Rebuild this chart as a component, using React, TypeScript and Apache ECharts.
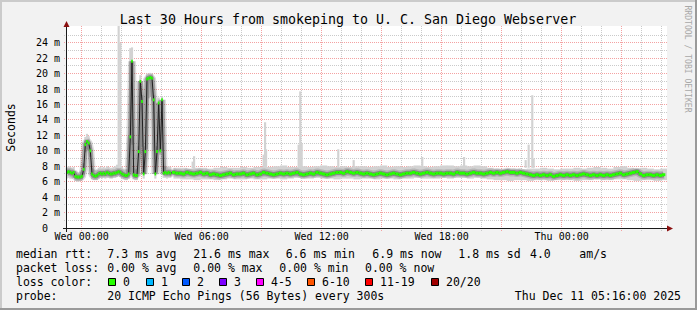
import React, { useEffect, useRef } from "react";
import * as echarts from "echarts";

// ---------------- data ----------------
const TITLE = "Last 30 Hours from smokeping to U. C. San Diego Webserver";
const START_HOUR = -44 / 60; // Tue 23:16, hours relative to Wed 00:00
const END_HOUR = 29 + 16 / 60; // Thu 05:16
const STEP_A = 5 / 60; // 5-minute samples (first part)
const STEP_B = 10 / 60; // 10-minute samples (rest)
const STEP_SMOKE_B = 20 / 60;
const Y_MAX = 26.17;

const xTickHours = [0, 6, 12, 18, 24];
const xTickLabels = ["Wed 00:00", "Wed 06:00", "Wed 12:00", "Wed 18:00", "Thu 00:00"];
const yGridValues = [1, 2, 3, 4, 5, 6, 7, 8, 9, 10, 11, 12, 13, 14, 15, 16, 17, 18, 19, 20, 21, 22, 23, 24, 25];
const xGridHours = [0, 1, 2, 3, 4, 5, 6, 7, 8, 9, 10, 11, 12, 13, 14, 15, 16, 17, 18, 19, 20, 21, 22, 23, 24, 25, 26, 27, 28, 29];

// median rtt (ms), 5-minute steps from Tue 23:16
const medianA = [
  7.2, 7.3, 7.2, 7.1, 7.2, 6.7, 6.6, 6.6, 6.6, 6.7, 7.6, 10.8, 11.2, 11.0, 10.0, 7.0,
  6.8, 6.7, 6.8, 7.0, 7.1, 7.0, 7.1, 7.0, 7.2, 7.1, 7.0, 7.0, 7.1, 7.1, 7.2, 7.3,
  7.2, 7.0, 6.9, 6.8, 6.8, 7.0, 11.8, 21.6, 6.9, 6.8, 6.8, 9.9, 19.0, 16.4, 7.0, 9.9,
  19.3, 19.4, 19.5, 19.4, 16.6, 7.0, 9.9, 16.2, 10.0, 16.6, 7.1, 7.2, 7.1, 7.2, 7.1,
];
const smokeLoA = [
  6.4, 6.5, 6.4, 6.4, 6.5, 6.1, 6.0, 6.0, 6.1, 6.2, 6.9, 9.8, 10.2, 10.0, 9.2, 6.3,
  6.2, 6.2, 6.2, 6.4, 6.5, 6.4, 6.5, 6.4, 6.5, 6.5, 6.4, 6.4, 6.5, 6.5, 6.6, 6.7,
  6.6, 6.4, 6.3, 6.2, 6.2, 6.4, 7.2, 10.8, 6.3, 6.2, 6.2, 7.0, 9.6, 10.5, 6.4, 7.0,
  10.2, 16.8, 17.0, 16.5, 10.0, 6.4, 7.2, 9.8, 9.5, 10.0, 6.5, 6.5, 6.4, 6.5, 6.5,
];
const smokeHiA = [
  7.9, 8.0, 7.9, 7.8, 7.9, 7.4, 7.2, 7.2, 7.3, 7.5, 8.4, 11.8, 12.2, 11.9, 10.8, 7.8,
  7.6, 7.5, 7.6, 7.8, 7.9, 7.8, 7.9, 7.8, 8.0, 7.9, 7.8, 7.8, 7.9, 8.0, 8.2, 26.2,
  24.0, 7.9, 7.7, 7.6, 7.6, 11.9, 23.3, 23.4, 7.8, 7.6, 7.7, 10.6, 19.8, 17.2, 7.9, 10.6,
  20.0, 20.0, 20.1, 20.0, 17.2, 7.9, 10.6, 16.9, 10.8, 17.0, 7.9, 8.0, 7.9, 8.0, 7.9,
];

// median rtt (ms), 10-minute steps after the first part
const medianB = [
  7.2, 7.1, 7.1, 7.0, 7.2, 7.1, 7.0, 7.1, 7.2, 7.0, 7.1,
  6.9, 7.0, 6.9, 6.8, 6.9, 7.0, 7.1, 6.9, 7.0, 7.0, 7.1, 6.9,
  7.0, 7.1, 6.9, 7.0, 7.2, 7.1, 7.0, 6.9, 7.0, 7.1, 7.0, 7.1,
  7.0, 7.1, 7.2, 7.0, 6.9, 7.0, 7.1, 7.0, 7.2, 7.1, 7.0, 6.9,
  7.0, 7.1, 7.2, 7.2, 7.1, 7.3, 7.2, 7.1, 7.2, 7.1, 7.0, 7.1,
  7.0, 6.9, 7.0, 7.1, 7.0, 6.9, 7.0, 7.1, 7.0, 6.9, 7.0, 7.1,
  7.1, 7.2, 7.1, 7.0, 7.1, 7.2, 7.1, 7.0, 7.1, 7.1, 7.0, 7.1,
  7.1, 7.0, 7.2, 7.1, 7.1, 7.0, 7.1, 7.2, 7.1, 7.1, 7.0, 7.1,
  7.2, 7.1, 7.2, 7.1, 7.2, 7.3, 7.2, 7.2, 7.1, 7.2, 7.1, 7.0,
  6.9, 6.8, 6.9, 6.8, 6.9, 6.8, 6.9, 6.7, 6.8, 6.9, 6.8, 6.9,
  6.8, 6.9, 6.8, 6.9, 7.0, 6.9, 6.8, 6.9, 6.8, 6.9, 6.8, 6.9,
  6.8, 6.9, 7.0, 7.1, 6.9, 7.0, 7.1, 7.2, 7.3, 7.0, 6.8, 6.9,
  6.9, 6.8, 6.9, 6.8, 6.9,
];
// smoke (min / max ping, ms), 20-minute steps after the first part
const smokeLoB = [
  6.4, 6.3, 6.3, 6.2, 6.3, 6.3, 6.2, 6.3, 6.4, 6.3, 6.3, 6.4, 6.3, 6.3,
  6.4, 6.4, 6.3, 6.4, 6.5, 6.4, 6.4, 6.5, 6.4, 6.4, 6.3, 6.4, 6.4, 6.3, 6.4,
  6.4, 6.3, 6.4, 6.4, 6.3, 6.4, 6.4, 6.5, 6.4, 6.4, 6.4, 6.5, 6.4, 6.5, 6.5,
  6.4, 6.5, 6.4, 6.3, 6.2, 6.2, 6.1, 6.2, 6.2, 6.1, 6.2, 6.2, 6.1, 6.2, 6.2,
  6.2, 6.1, 6.2, 6.2, 6.3, 6.2, 6.2, 6.3, 6.3, 6.2, 6.1, 6.2, 6.2, 6.1, 6.2,
];
const smokeHiB = [
  7.8, 7.8, 7.7, 7.8, 7.8, 7.7, 7.8, 7.9, 7.8, 7.8, 7.9, 7.8, 7.9, 7.9,
  7.9, 8.0, 8.1, 7.9, 7.9, 8.0, 7.9, 8.0, 8.1, 8.0, 7.9, 8.0, 7.9, 8.0, 8.0,
  7.9, 8.0, 8.1, 7.9, 8.0, 7.9, 8.0, 8.1, 8.0, 7.9, 8.0, 8.1, 8.1, 8.0, 8.1,
  8.0, 8.1, 8.0, 7.8, 7.7, 7.6, 7.7, 7.7, 7.6, 7.7, 7.7, 7.8, 7.7, 7.6, 7.7,
  7.7, 7.8, 7.7, 7.8, 7.9, 7.8, 7.7, 7.9, 8.0, 7.8, 7.7, 7.8, 7.7, 7.6, 7.7,
];
// isolated slow pings: [hour, low ms, high ms]
const smokeSpikes = [
  [5.55, 7.7, 8.6], [5.62, 7.7, 9.3], [9.1, 7.6, 9.5], [9.17, 7.6, 13.7], [9.22, 7.6, 10.2],
  [10.85, 7.7, 10.8], [10.93, 7.7, 17.7], [11.0, 7.7, 11.0], [12.83, 7.8, 10.2], [13.6, 7.8, 8.8],
  [17.03, 7.9, 9.2], [19.12, 7.8, 9.2], [22.2, 7.8, 8.8], [22.35, 7.8, 10.8], [22.53, 7.8, 17.2],
  [22.6, 7.8, 9.0],
];

const rttLegend = ["median rtt:", "7.3 ms avg", "21.6 ms max", "6.6 ms min", "6.9 ms now", "1.8 ms sd", "4.0", "am/s"];
const lossLegend = ["packet loss:", "0.00 % avg", "0.00 % max", "0.00 % min", "0.00 % now"];
const lossColorNames = ["0", "1", "2", "3", "4-5", "6-10", "11-19", "20/20"];
const lossColors = ["#26ff00", "#00b8ff", "#0059ff", "#7e00ff", "#ff00ff", "#ff5500", "#ff0000", "#a10000"];
const probeLabel = "probe:";
const probeText = "20 ICMP Echo Pings (56 Bytes) every 300s";
const timestampText = "Thu Dec 11 05:16:00 2025";
const watermark = "RRDTOOL / TOBI OETIKER";
const yAxisName = "Seconds";

// ---------------- layout ----------------
const W = 697;
const H = 310;
const PLOT_L = 67;
const PLOT_R = 667;
const PLOT_T = 26;
const PLOT_B = 228;
const MONO = '"DejaVu Sans Mono", "Liberation Mono", monospace';
const GRID_MINOR = "#cacaca";
const GRID_MAJOR = "#f4a2a2";

function text(t: string, x: number, y: number, size: number, extra: any = {}) {
  const align = extra.align || "left";
  return {
    type: "text",
    x,
    y,
    rotation: extra.rotation || 0,
    silent: true,
    z: 100,
    style: {
      text: t,
      fontSize: size,
      fontFamily: MONO,
      fill: extra.fill || "#000",
      align,
      textAlign: align,
      verticalAlign: "middle",
      textVerticalAlign: "middle",
    },
  };
}

function buildOption() {
  const B0 = START_HOUR + (medianA.length - 1) * STEP_A;
  const tA = (i: number) => START_HOUR + i * STEP_A;
  const tB = (j: number) => B0 + (j + 1) * STEP_B;
  const tSB = (k: number) => B0 + (k + 1) * STEP_SMOKE_B;

  const medianPts = [
    ...medianA.map((v, i) => [tA(i), v]),
    ...medianB.map((v, j) => [tB(j), v]),
  ];
  const greenItems = [
    ...medianA.map((v, i) => [tA(i), v, STEP_A / 2]),
    ...medianB.map((v, j) => [tB(j), v, STEP_B / 2]),
  ];
  const smokeItems = [
    ...medianA.map((_, i) => [tA(i), smokeLoA[i], smokeHiA[i], STEP_A / 2]),
    ...smokeLoB.map((lo, k) => [tSB(k), lo, smokeHiB[k], STEP_SMOKE_B / 2]),
    ...smokeSpikes.map((s) => [s[0], s[1], s[2], STEP_A / 2]),
  ];
  // grid items: [x (hours), y (ms), vertical?, major?]
  const gridItems = [
    ...yGridValues.map((v) => [START_HOUR, v, 0, v % 2 === 0 ? 1 : 0]),
    ...xGridHours.map((h) => [h, 0, 1, h % 3 === 0 ? 1 : 0]),
  ];

  const graphics: any[] = [];
  graphics.push({ type: "rect", shape: { x: 0, y: 0, width: W, height: 2 }, style: { fill: "#cbcbcb" }, silent: true });
  graphics.push({ type: "rect", shape: { x: 0, y: 0, width: 2, height: H }, style: { fill: "#cbcbcb" }, silent: true });
  graphics.push({ type: "rect", shape: { x: 0, y: H - 2, width: W, height: 2 }, style: { fill: "#9a9a9a" }, silent: true });
  graphics.push({ type: "rect", shape: { x: W - 2, y: 0, width: 2, height: H }, style: { fill: "#9a9a9a" }, silent: true });

  graphics.push(text(TITLE, 348, 19, 13.3, { align: "center" }));
  graphics.push(text(watermark, 688, 59, 8.1, { align: "center", rotation: -Math.PI / 2, fill: "#a8a8a8" }));
  graphics.push(text(yAxisName, 10.5, 127.5, 11.5, { align: "center", rotation: Math.PI / 2 }));

  graphics.push({ type: "line", shape: { x1: 63, y1: 228.5, x2: 668, y2: 228.5 }, style: { stroke: "#1a1a1a", lineWidth: 1 }, silent: true, z: 50 });
  graphics.push({ type: "line", shape: { x1: 66.5, y1: 232, x2: 66.5, y2: 26 }, style: { stroke: "#1a1a1a", lineWidth: 1 }, silent: true, z: 50 });
  graphics.push({ type: "polygon", shape: { points: [[667, 225.5], [673, 228.5], [667, 231.5]] }, style: { fill: "#8b1010" }, silent: true, z: 51 });
  graphics.push({ type: "polygon", shape: { points: [[63.5, 27], [66.5, 21], [69.5, 27]] }, style: { fill: "#8b1010" }, silent: true, z: 51 });

  const row1 = [16, 107.3, 193.3, 285.7, 372.3, 458.3, 530, 579.3];
  rttLegend.forEach((s, i) => graphics.push(text(s, row1[i], 254, 11.5)));
  const row2 = [16, 107.3, 193.3, 279.3, 365];
  lossLegend.forEach((s, i) => graphics.push(text(s, row2[i], 268, 11.5)));
  graphics.push(text("loss color:", 16, 282, 11.5));
  const boxX = [108, 146, 182, 219, 256, 307, 365, 431];
  lossColorNames.forEach((n, i) => {
    graphics.push({
      type: "rect",
      shape: { x: boxX[i] + 0.5, y: 278.5, width: 7, height: 7 },
      style: { fill: lossColors[i], stroke: "#000", lineWidth: 1 },
      silent: true,
      z: 100,
    });
    graphics.push(text(n, boxX[i] + 15, 282, 11.5));
  });
  graphics.push(text(probeLabel, 16, 296, 11.5));
  graphics.push(text(probeText, 107.3, 296, 11.5));
  graphics.push(text(timestampText, 681, 296, 11.5, { align: "right" }));

  return {
    animation: false,
    backgroundColor: "#f2f2f2",
    grid: {
      left: PLOT_L,
      right: W - PLOT_R,
      top: PLOT_T,
      bottom: H - PLOT_B,
      show: true,
      backgroundColor: "#ffffff",
      borderWidth: 0,
    },
    xAxis: {
      type: "value",
      min: START_HOUR,
      max: END_HOUR,
      axisLine: { show: false },
      splitLine: { show: false },
      axisTick: { show: false },
      axisLabel: {
        customValues: xTickHours,
        margin: 3,
        fontSize: 10,
        fontFamily: MONO,
        color: "#000",
        formatter: (v: number) => {
          const i = xTickHours.indexOf(Math.round(v));
          return i >= 0 && Math.abs(v - xTickHours[i]) < 1e-6 ? xTickLabels[i] : "";
        },
      },
    },
    yAxis: {
      type: "value",
      min: 0,
      max: Y_MAX,
      interval: 2,
      axisLine: { show: false },
      splitLine: { show: false },
      axisTick: { show: false },
      axisLabel: {
        margin: 7,
        fontSize: 10,
        fontFamily: MONO,
        color: "#000",
        formatter: (v: number) => (v === 0 ? "{z|0}" : v > 25 ? "" : `${v} m`),
        rich: { z: { padding: [0, 12, 0, 0], fontSize: 10, fontFamily: MONO, color: "#000" } },
      },
    },
    graphic: graphics,
    series: [
      {
        type: "custom",
        name: "grid",
        z: 1,
        silent: true,
        clip: false,
        data: gridItems,
        encode: { x: 0, y: 1 },
        renderItem: (_p: any, api: any) => {
          const vertical = api.value(2) === 1;
          const major = api.value(3) === 1;
          const style = { stroke: major ? GRID_MAJOR : GRID_MINOR, lineWidth: 1, lineDash: [1, 1] };
          if (vertical) {
            const h = api.value(0);
            const top = api.coord([h, Y_MAX]);
            const bot = api.coord([h, 0]);
            const x = Math.floor(top[0]) + 0.5;
            return { type: "line", shape: { x1: x, y1: top[1], x2: x, y2: bot[1] + 3 }, style };
          }
          const v = api.value(1);
          const l = api.coord([START_HOUR, v]);
          const r = api.coord([END_HOUR, v]);
          const y = Math.floor(l[1]) + 0.5;
          return { type: "line", shape: { x1: l[0] - 3, y1: y, x2: r[0], y2: y }, style };
        },
      },
      {
        type: "custom",
        name: "smoke",
        z: 2,
        silent: true,
        clip: true,
        data: smokeItems,
        encode: { x: 0, y: [1, 2] },
        renderItem: (_p: any, api: any) => {
          const t = api.value(0);
          const lo = api.value(1);
          const hi = api.value(2);
          const hw = api.value(3);
          const a = api.coord([t - hw, hi]);
          const b = api.coord([t + hw, lo]);
          return {
            type: "rect",
            shape: { x: a[0] - 0.25, y: a[1], width: b[0] - a[0] + 0.5, height: b[1] - a[1] },
            style: { fill: "#d2d2d2" },
          };
        },
      },
      {
        type: "line",
        name: "smoke outer",
        data: medianPts,
        z: 3,
        silent: true,
        symbol: "none",
        lineStyle: { color: "rgba(40,40,40,0.16)", width: 8 },
      },
      {
        type: "line",
        name: "smoke core",
        data: medianPts,
        z: 3,
        silent: true,
        symbol: "none",
        lineStyle: { color: "rgba(30,30,30,0.3)", width: 5 },
      },
      {
        type: "line",
        name: "median",
        data: medianPts,
        z: 4,
        silent: true,
        symbol: "none",
        lineStyle: { color: "#202020", width: 1 },
      },
      {
        type: "custom",
        name: "loss 0",
        z: 5,
        silent: true,
        clip: true,
        data: greenItems,
        encode: { x: 0, y: 1 },
        renderItem: (_p: any, api: any) => {
          const t = api.value(0);
          const v = api.value(1);
          const hw = api.value(2);
          const a = api.coord([t - hw, v]);
          const b = api.coord([t + hw, v]);
          return {
            type: "rect",
            shape: { x: a[0], y: a[1] - 1.5, width: b[0] - a[0], height: 3 },
            style: { fill: "#26ff00" },
          };
        },
      },
    ],
  };
}

export default function App() {
  const ref = useRef<HTMLDivElement>(null);
  useEffect(() => {
    if (!ref.current) return;
    const chart = echarts.init(ref.current, undefined, { renderer: "svg" });
    chart.setOption(buildOption() as any);
    return () => chart.dispose();
  }, []);
  return <div ref={ref} style={{ position: "fixed", left: 0, top: 0, width: W, height: H }} />;
}
